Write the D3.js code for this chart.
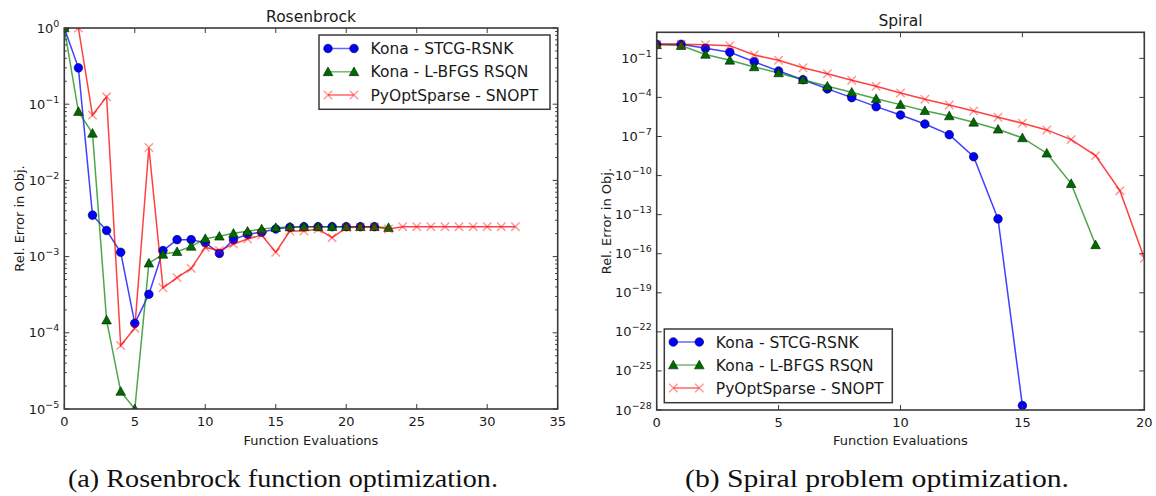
<!DOCTYPE html>
<html><head><meta charset="utf-8">
<script src="https://cdn.jsdelivr.net/npm/d3@7"></script>
<style>body{margin:0;background:#fff} svg{display:block}</style>
</head><body>
<svg id="c" width="1156" height="496"></svg>
<script>
// ---------- DATA ----------
const seriesNames = ["Kona - STCG-RSNK", "Kona - L-BFGS RSQN", "PyOptSparse - SNOPT"];

// Rosenbrock
const rbX_STCG  = [0,1,2,3,4,5,6,7,8,9,10,11,12,13,14,15,16,17,18,19,20,21,22];
const rbY_STCG  = [1, 0.3, 0.0035, 0.0022, 0.00114, 1.33e-4, 3.2e-4, 1.2e-3, 1.67e-3, 1.67e-3, 1.52e-3, 1.1e-3, 1.67e-3, 1.96e-3, 2.09e-3, 2.3e-3, 2.42e-3, 2.47e-3, 2.47e-3, 2.47e-3, 2.47e-3, 2.47e-3, 2.47e-3];
const rbX_LBFGS = [0,1,2,3,4,5,6,7,8,9,10,11,12,13,14,15,16,17,18,19,20,21,22,23];
const rbY_LBFGS = [1, 0.08, 0.0415, 1.47e-4, 1.7e-5, 1e-5, 8.2e-4, 1.07e-3, 1.16e-3, 1.36e-3, 1.72e-3, 1.85e-3, 2.02e-3, 2.15e-3, 2.3e-3, 2.4e-3, 2.45e-3, 2.47e-3, 2.47e-3, 2.47e-3, 2.47e-3, 2.47e-3, 2.47e-3, 2.4e-3];
const rbX_SNOPT = [1,2,3,4,5,6,7,8,9,10,11,12,13,14,15,16,17,18,19,20,21,22,23,24,25,26,27,28,29,30,31,32];
const rbY_SNOPT = [1, 0.072, 0.125, 6.8e-5, 1.15e-4, 0.027, 3.9e-4, 5.3e-4, 7.0e-4, 1.32e-3, 1.2e-3, 1.46e-3, 1.7e-3, 1.92e-3, 1.14e-3, 2.17e-3, 2.17e-3, 2.3e-3, 1.77e-3, 2.4e-3, 2.45e-3, 2.45e-3, 2.3e-3, 2.47e-3, 2.47e-3, 2.47e-3, 2.47e-3, 2.47e-3, 2.47e-3, 2.47e-3, 2.47e-3, 2.47e-3];

// Spiral
const spX_STCG  = [0,1,2,3,4,5,6,7,8,9,10,11,12,13,14,15];
const spY_STCG  = [1.2, 1.2, 0.59, 0.29, 0.055, 0.0107, 2.3e-3, 4.5e-4, 9.6e-5, 1.95e-5, 4.5e-6, 9.1e-7, 1.38e-7, 2.8e-9, 4.7e-14, 2.2e-28];
const spX_LBFGS = [0,1,2,3,4,5,6,7,8,9,10,11,12,13,14,15,16,17,18];
const spY_LBFGS = [1.1, 0.95, 0.2, 0.071, 0.022, 7.6e-3, 2.3e-3, 7.2e-4, 2.5e-4, 8.0e-5, 2.8e-5, 9.5e-6, 3.8e-6, 1.23e-6, 3.6e-7, 7.8e-8, 5.2e-9, 2.4e-11, 4.8e-16];
const spX_SNOPT = [0,1,2,3,4,5,6,7,8,9,10,11,12,13,14,15,16,17,18,19,20];
const spY_SNOPT = [1.2, 1.2, 1.1, 0.94, 0.18, 0.071, 0.019, 6.6e-3, 2.1e-3, 7.2e-4, 2.2e-4, 7.2e-5, 2.6e-5, 9.1e-6, 3.0e-6, 1.05e-6, 3.2e-7, 5.8e-8, 3.4e-9, 6.9e-12, 4.5e-17];

// Ticks
const rbXTicks = [0,5,10,15,20,25,30,35];
const rbYExps  = [0,-1,-2,-3,-4,-5];
const spXTicks = [0,5,10,15,20];
const spYExps  = [-1,-4,-7,-10,-13,-16,-19,-22,-25,-28];

const titles = ["Rosenbrock", "Spiral"];
const xLabel = "Function Evaluations";
const yLabel = "Rel. Error in Obj.";
const captions = ["(a) Rosenbrock function optimization.", "(b) Spiral problem optimization."];

// ---------- DRAW ----------
const svg = d3.select("#c");
const FRAME = "#3a3a3a";
const TXT = "#1a1a1a";
const styles = [
  {line:"#0000ff", lineOp:0.75, marker:"circle", fill:"#0000ff", mstroke:"#000033"},
  {line:"#008000", lineOp:0.7, marker:"tri", fill:"#006a00", mstroke:"#002200"},
  {line:"#ff0000", lineOp:0.75, marker:"x", fill:"none", mstroke:"#ff0000"}
];

function drawMarker(g, type, x, y, st) {
  if (type === "circle") {
    g.append("circle").attr("cx", x).attr("cy", y).attr("r", 4.3)
      .attr("fill", st.fill).attr("stroke", st.mstroke).attr("stroke-width", 0.6);
  } else if (type === "tri") {
    const s = 4.8;
    g.append("path").attr("d", `M${x},${y - s}L${x + s},${y + s * 0.8}L${x - s},${y + s * 0.8}Z`)
      .attr("fill", st.fill).attr("stroke", st.mstroke).attr("stroke-width", 0.6);
  } else {
    const s = 4.2;
    g.append("path").attr("d", `M${x - s},${y - s}L${x + s},${y + s}M${x - s},${y + s}L${x + s},${y - s}`)
      .attr("fill", "none").attr("stroke", st.mstroke).attr("stroke-opacity", 0.4).attr("stroke-width", 1.5);
  }
}

function supLabel(sel, exp) {
  sel.append("tspan").text("10");
  sel.append("tspan").attr("dy", -6).attr("font-size", 9.5).text(exp === 0 ? "0" : "\u2212" + Math.abs(exp));
}

function panel(cfg) {
  const {x0, x1, y0, y1, xDom, yDom, xTicks, yExps, minor, series, title, id, legend, titleY} = cfg;
  const xs = d3.scaleLinear().domain(xDom).range([x0, x1]);
  const ys = d3.scaleLog().domain(yDom).range([y1, y0]);
  const g = svg.append("g");

  g.append("clipPath").attr("id", id).append("rect")
    .attr("x", x0).attr("y", y0).attr("width", x1 - x0).attr("height", y1 - y0);

  // data
  const dg = g.append("g").attr("clip-path", `url(#${id})`);
  series.forEach((s, i) => {
    const st = styles[i];
    const pts = s.x.map((xv, k) => [xs(xv), ys(s.y[k])]);
    dg.append("path").attr("d", d3.line()(pts)).attr("fill", "none")
      .attr("stroke", st.line).attr("stroke-opacity", st.lineOp).attr("stroke-width", 1.5);
  });
  series.forEach((s, i) => {
    const st = styles[i];
    s.x.forEach((xv, k) => drawMarker(dg, st.marker, xs(xv), ys(s.y[k]), st));
  });

  // ticks
  const tg = g.append("g").attr("stroke", FRAME).attr("stroke-width", 1);
  xTicks.forEach(t => {
    const x = xs(t);
    tg.append("line").attr("x1", x).attr("x2", x).attr("y1", y1).attr("y2", y1 - 5);
    tg.append("line").attr("x1", x).attr("x2", x).attr("y1", y0).attr("y2", y0 + 5);
  });
  yExps.forEach(e => {
    const y = ys(Math.pow(10, e));
    tg.append("line").attr("x1", x0).attr("x2", x0 + 5).attr("y1", y).attr("y2", y);
    tg.append("line").attr("x1", x1).attr("x2", x1 - 5).attr("y1", y).attr("y2", y);
  });
  if (minor) {
    const lo = Math.log10(yDom[0]), hi = Math.log10(yDom[1]);
    for (let e = lo; e < hi; e++) {
      for (let m = 2; m <= 9; m++) {
        const y = ys(m * Math.pow(10, e));
        tg.append("line").attr("x1", x0).attr("x2", x0 + 2.5).attr("y1", y).attr("y2", y);
        tg.append("line").attr("x1", x1).attr("x2", x1 - 2.5).attr("y1", y).attr("y2", y);
      }
    }
  }

  // frame
  g.append("rect").attr("x", x0).attr("y", y0).attr("width", x1 - x0).attr("height", y1 - y0)
    .attr("fill", "none").attr("stroke", FRAME).attr("stroke-width", 1.6);

  // tick labels
  const font = "DejaVu Sans, sans-serif";
  xTicks.forEach(t => {
    g.append("text").attr("x", xs(t)).attr("y", y1 + 17).attr("text-anchor", "middle")
      .attr("font-family", font).attr("font-size", 13).attr("fill", TXT).text(t);
  });
  yExps.forEach(e => {
    const t = g.append("text").attr("x", x0 - 5).attr("y", ys(Math.pow(10, e)) + 4.5)
      .attr("text-anchor", "end").attr("font-family", font).attr("font-size", 13).attr("fill", TXT);
    supLabel(t, e);
  });

  // labels
  g.append("text").attr("x", (x0 + x1) / 2).attr("y", 445).attr("text-anchor", "middle")
    .attr("font-family", font).attr("font-size", 13).attr("fill", TXT).text(xLabel);
  g.append("text").attr("transform", `translate(${cfg.yLabX},${(y0 + y1) / 2}) rotate(-90)`)
    .attr("text-anchor", "middle").attr("font-family", font).attr("font-size", 13).attr("fill", TXT).text(yLabel);
  g.append("text").attr("x", (x0 + x1) / 2).attr("y", titleY).attr("text-anchor", "middle")
    .attr("font-family", font).attr("font-size", 15.5).attr("fill", TXT).text(title);

  // legend
  const lg = g.append("g");
  lg.append("rect").attr("x", legend.x).attr("y", legend.y).attr("width", legend.w).attr("height", legend.h)
    .attr("fill", "#fff").attr("stroke", FRAME).attr("stroke-width", 1.5);
  seriesNames.forEach((n, i) => {
    const st = styles[i];
    const yy = legend.rows[i];
    const lx0 = legend.x + 9, lx1 = legend.x + 35;
    lg.append("line").attr("x1", lx0).attr("x2", lx1).attr("y1", yy).attr("y2", yy)
      .attr("stroke", st.line).attr("stroke-opacity", st.lineOp * 0.8).attr("stroke-width", 1.5);
    drawMarker(lg, st.marker, lx0, yy, st);
    drawMarker(lg, st.marker, lx1, yy, st);
    lg.append("text").attr("x", legend.x + 51.5).attr("y", yy + 5.5).attr("font-family", font)
      .attr("font-size", 15.5).attr("fill", TXT).text(n);
  });
}

panel({
  id: "clipA", x0: 64.3, x1: 557.7, y0: 28, y1: 409, xDom: [0, 35], yDom: [1e-5, 1],
  xTicks: rbXTicks, yExps: rbYExps, minor: true, title: titles[0], titleY: 21.5, yLabX: 24,
  series: [{x: rbX_STCG, y: rbY_STCG}, {x: rbX_LBFGS, y: rbY_LBFGS}, {x: rbX_SNOPT, y: rbY_SNOPT}],
  legend: {x: 319, y: 35, w: 231, h: 74.3, rows: [48.5, 71.8, 95]}
});
panel({
  id: "clipB", x0: 656.7, x1: 1144.3, y0: 32.3, y1: 410, xDom: [0, 20], yDom: [1e-28, 1e1],
  xTicks: spXTicks, yExps: spYExps, minor: false, title: titles[1], titleY: 26, yLabX: 611,
  series: [{x: spX_STCG, y: spY_STCG}, {x: spX_LBFGS, y: spY_LBFGS}, {x: spX_SNOPT, y: spY_SNOPT}],
  legend: {x: 664.3, y: 329, w: 228, h: 73.7, rows: [342, 365, 388]}
});

// captions
svg.append("text").attr("x", 68).attr("y", 487).attr("font-family", "Liberation Serif, serif")
  .attr("font-size", 25).attr("fill", "#111").attr("textLength", 430).attr("lengthAdjust", "spacingAndGlyphs").text(captions[0]);
svg.append("text").attr("x", 685).attr("y", 487).attr("font-family", "Liberation Serif, serif")
  .attr("font-size", 25).attr("fill", "#111").attr("textLength", 384).attr("lengthAdjust", "spacingAndGlyphs").text(captions[1]);
</script>
</body></html>
